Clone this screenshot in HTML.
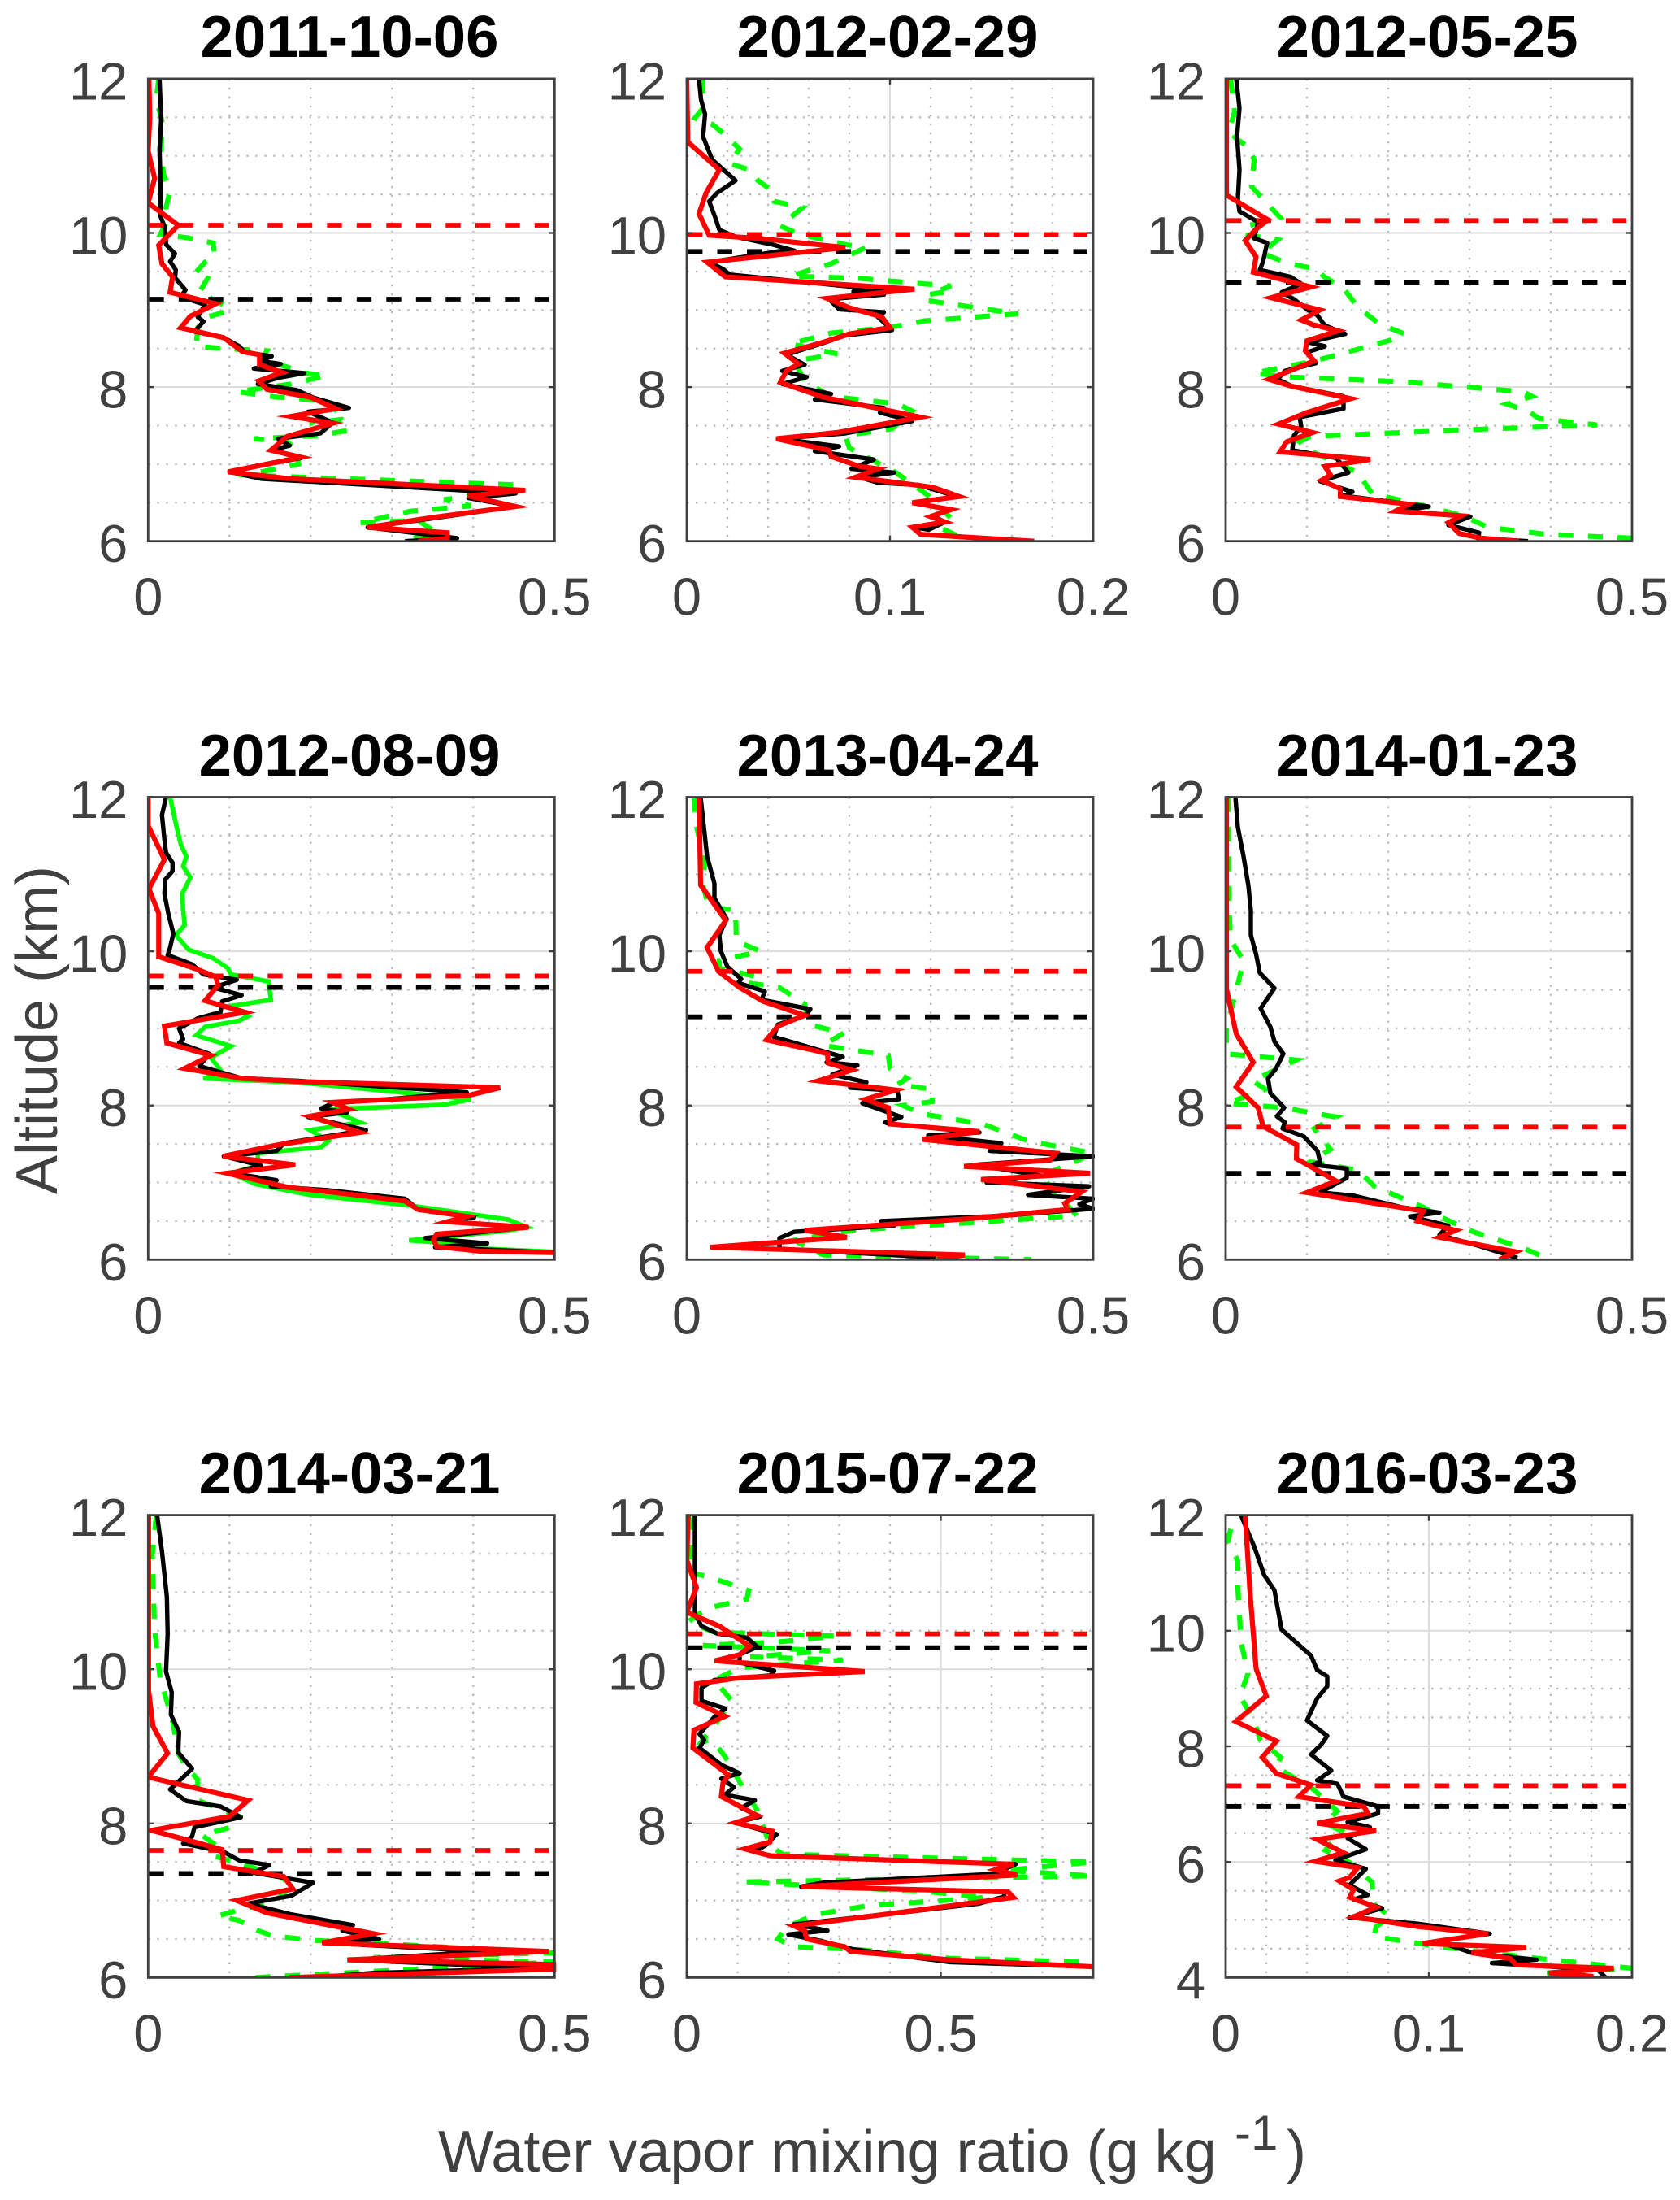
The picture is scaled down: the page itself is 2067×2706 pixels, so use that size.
<!DOCTYPE html>
<html lang="en">
<head>
<meta charset="utf-8">
<title>Water vapor mixing ratio profiles</title>
<style>
html,body{margin:0;padding:0;background:#fff;}
svg{display:block;font-family:"Liberation Sans",Arial,sans-serif;}
.ptitle{font-size:72.5px;font-weight:bold;fill:#000;text-anchor:middle;}
.axl{font-size:72px;fill:#404040;}
.tick{font-size:65px;fill:#404040;}
</style>
</head>
<body>
<svg id="figure" xmlns="http://www.w3.org/2000/svg" width="2067" height="2706" viewBox="0 0 2067 2706">
<rect x="0" y="0" width="2067" height="2706" fill="#fff"/>
<g id="panel-1"><text class="ptitle" x="430" y="70">2011-10-06</text></g>
<g id="panel-2"><text class="ptitle" x="1092" y="70">2012-02-29</text></g>
<g id="panel-3"><text class="ptitle" x="1756" y="70">2012-05-25</text></g>
<g id="panel-4"><text class="ptitle" x="430" y="954">2012-08-09</text></g>
<g id="panel-5"><text class="ptitle" x="1092" y="954">2013-04-24</text></g>
<g id="panel-6"><text class="ptitle" x="1756" y="954">2014-01-23</text></g>
<g id="panel-7"><text class="ptitle" x="430" y="1837">2014-03-21</text></g>
<g id="panel-8"><text class="ptitle" x="1092" y="1837">2015-07-22</text></g>
<g id="panel-9"><text class="ptitle" x="1756" y="1837">2016-03-23</text></g>
<text class="axl" text-anchor="middle" transform="translate(70,1267) rotate(-90)">Altitude (km)</text>
<text class="axl" x="539" y="2671">Water vapor mixing ratio (g kg</text>
<text x="1519" y="2644" font-size="60" fill="#404040">-1</text>
<text class="axl" x="1583" y="2671">)</text>
</svg>
<script>
// Panel 1: 2011-10-06
const p1RedVal=[.001,.002,0,.008,0,.037,.013,.017,.03,.027,.083,.052,.04,.093,.116,.137,.137,.165,.136,.146,.199,.231,.176,.227,.171,.151,.188,.098,.176,.464,.393,.452,.351,.27,.368,.368,.332];
const p1RedAlt=[12,11.49,11.06,10.71,10.39,10.1,9.84,9.6,9.43,9.23,9.08,8.92,8.77,8.64,8.46,8.42,8.29,8.19,8.08,7.97,7.87,7.72,7.62,7.53,7.36,7.18,7.09,6.9,6.81,6.66,6.59,6.45,6.31,6.18,6.11,6.04,6];
const p1BlackVal=[.014,.016,.014,.015,.015,.021,.022,.033,.027,.034,.033,.046,.04,.07,.061,.068,.057,.093,.112,.119,.152,.137,.163,.13,.192,.16,.135,.183,.204,.247,.197,.227,.212,.16,.174,.151,.188,.148,.1,.139,.452,.394,.452,.332,.27,.38,.316];
const p1BlackAlt=[12,11.46,11.09,10.71,10.22,10.06,9.85,9.73,9.63,9.52,9.42,9.26,9.17,9.07,8.91,8.85,8.72,8.64,8.53,8.45,8.4,8.34,8.3,8.24,8.18,8.12,8.04,7.96,7.86,7.73,7.68,7.54,7.4,7.33,7.24,7.18,7.08,7,6.9,6.81,6.62,6.56,6.45,6.27,6.18,6.04,6];
const p1GreenVal=[.013,.01,.017,.016,.019,.027,.022,.022,.015,.047,.08,.082,.07,.057,.073,.063,.092,.1,.073,.061,.059,.093,.146,.139,.162,.194,.22,.176,.109,.158,.208,.233,.199,.238,.247,.208,.13,.171,.183,.185,.139,.112,.456,.392,.364,.397,.323,.261,.332,.355,.312];
const p1GreenAlt=[12,11.73,11.46,11.03,10.76,10.55,10.33,10.12,9.98,9.94,9.87,9.69,9.62,9.47,9.41,9.23,9.07,8.99,8.91,8.77,8.53,8.5,8.47,8.34,8.29,8.18,8.15,8.04,7.94,7.87,7.83,7.72,7.53,7.58,7.44,7.37,7.33,7.29,7.18,7,6.9,6.86,6.73,6.58,6.54,6.46,6.39,6.24,6.27,6.11,6];
// Panel 2: 2012-02-29
const p2RedVal=[0,.0005,.016,.0095,.006,.011,.035,.078,.01,.019,.112,.069,.08,.096,.1,.08,.067,.048,.055,.049,.046,.067,.115,.074,.044,.07,.071,.085,.094,.083,.121,.134,.111,.13,.12,.127,.111,.115,.171];
const p2RedAlt=[12,11.18,10.82,10.52,10.25,9.97,9.93,9.81,9.62,9.43,9.27,9.15,9.03,8.91,8.77,8.69,8.58,8.44,8.3,8.21,8.06,7.87,7.61,7.41,7.33,7.18,7.1,6.97,6.94,6.83,6.7,6.58,6.5,6.41,6.32,6.25,6.18,6.09,6];
const p2BlackVal=[.006,.007,.009,.008,.0125,.018,.024,.015,.011,.014,.016,.024,.042,.053,.045,.011,.018,.021,.097,.082,.097,.07,.075,.097,.094,.101,.078,.067,.049,.058,.047,.059,.047,.071,.063,.097,.095,.111,.078,.045,.075,.063,.092,.081,.102,.085,.094,.114,.133,.112,.13,.121,.127,.119,.112,.115,.167];
const p2BlackAlt=[12,11.73,11.54,11.25,10.95,10.82,10.68,10.52,10.41,10.2,10.04,9.95,9.85,9.77,9.76,9.62,9.53,9.46,9.26,9.24,9.2,9.14,9.01,8.97,8.91,8.74,8.67,8.57,8.42,8.29,8.21,8.13,8.04,7.91,7.84,7.73,7.67,7.56,7.4,7.33,7.23,7.17,7.06,6.94,6.89,6.83,6.76,6.73,6.58,6.5,6.41,6.33,6.25,6.15,6.18,6.09,6];
const p2GreenVal=[.008,.008,.004,.0125,.019,.026,.021,.031,.035,.042,.043,.057,.046,.056,.078,.088,.071,.051,.085,.13,.119,.126,.119,.163,.117,.099,.071,.051,.074,.056,.054,.058,.071,.104,.111,.101,.078,.08,.103,.119,.13,.126,.139];
const p2GreenAlt=[12,11.62,11.49,11.41,11.27,11.09,10.9,10.82,10.68,10.55,10.41,10.33,10.09,9.98,9.85,9.81,9.6,9.44,9.41,9.31,9.2,9.23,9.12,8.95,8.86,8.77,8.7,8.56,8.43,8.35,8.29,8.07,7.88,7.78,7.69,7.46,7.37,7.21,6.89,6.59,6.3,6.16,6];
// Panel 3: 2012-05-25
const p3RedVal=[.001,.001,.052,.0375,.024,.0375,.034,.105,.056,.116,.093,.107,.138,.1,.098,.109,.053,.082,.154,.1,.065,.107,.075,.067,.178,.122,.129,.118,.141,.141,.225,.209,.29,.274,.2875,.314,.361];
const p3RedAlt=[12,10.49,10.17,10.05,9.9,9.69,9.49,9.3,9.16,9,8.87,8.81,8.73,8.6,8.47,8.34,8.1,8.01,7.85,7.67,7.52,7.41,7.29,7.16,7.06,6.97,6.86,6.79,6.68,6.58,6.48,6.39,6.33,6.24,6.1,6.04,6];
const p3BlackVal=[.013,.017,.014,.017,.015,.017,.04,.035,.051,.046,.042,.08,.093,.069,.084,.1,.113,.122,.147,.102,.122,.1,.111,.073,.064,.082,.145,.145,.091,.093,.084,.082,.136,.151,.116,.156,.145,.25,.212,.301,.274,.312,.31,.372];
const p3BlackAlt=[12,11.62,11.25,10.82,10.44,10.28,10.14,9.93,9.87,9.63,9.52,9.43,9.34,9.23,9.14,9.01,8.93,8.8,8.69,8.58,8.53,8.45,8.31,8.21,8.1,8.01,7.88,7.72,7.61,7.49,7.37,7.18,7.08,6.89,6.78,6.64,6.59,6.45,6.39,6.32,6.21,6.11,6.04,6];
const p3GreenVal=[.006,.011,.004,.013,.029,.035,.032,.067,.026,.022,.064,.044,.078,.113,.12,.145,.1625,.189,.22,.203,.149,.109,.035,.082,.216,.366,.377,.346,.372,.386,.457,.305,.104,.091,.107,.1625,.18,.247,.292,.323,.395,.5];
const p3GreenAlt=[12,11.57,11.33,11.22,11.11,10.95,10.6,10.2,10.09,9.98,9.91,9.74,9.6,9.53,9.44,9.28,9.04,8.82,8.69,8.61,8.45,8.34,8.18,8.13,8.07,7.94,7.88,7.78,7.69,7.59,7.51,7.45,7.36,7.29,7.16,6.89,6.62,6.45,6.33,6.18,6.09,6.04];
// Panel 4: 2012-08-09
const p4RedVal=[0,0,.02,.001,.013,.013,.057,.083,.086,.07,.119,.02,.023,.077,.045,.116,.185,.433,.394,.227,.247,.199,.261,.16,.092,.181,.097,.171,.254,.316,.332,.392,.368,.468,.355,.351,.355,.408,.5];
const p4RedAlt=[12,11.63,11.19,10.81,10.49,9.93,9.78,9.67,9.56,9.36,9.21,9.03,8.81,8.65,8.48,8.35,8.31,8.23,8.13,8.04,7.95,7.86,7.65,7.49,7.34,7.23,7.12,6.94,6.84,6.76,6.65,6.56,6.49,6.42,6.33,6.26,6.17,6.11,6.09];
const p4BlackVal=[.022,.017,.02,.022,.03,.03,.021,.02,.025,.031,.027,.024,.054,.068,.109,.08,.115,.091,.089,.061,.038,.043,.038,.075,.063,.089,.116,.185,.392,.295,.227,.213,.245,.197,.268,.167,.158,.093,.139,.102,.158,.151,.222,.316,.332,.401,.369,.466,.341,.417,.353,.5];
const p4BlackAlt=[12,11.77,11.45,11.28,11.15,11.04,10.93,10.75,10.48,10.23,10.05,9.95,9.83,9.7,9.63,9.53,9.43,9.35,9.21,9.13,9,8.86,8.81,8.67,8.51,8.43,8.35,8.32,8.17,8.08,8.03,7.96,7.91,7.85,7.68,7.51,7.41,7.34,7.22,7.12,7.03,6.95,6.9,6.79,6.65,6.55,6.49,6.42,6.28,6.21,6.16,6.09];
const p4GreenVal=[.027,.034,.04,.047,.043,.052,.042,.043,.045,.034,.05,.08,.098,.102,.148,.151,.102,.123,.112,.07,.059,.102,.077,.091,.068,.185,.397,.364,.222,.261,.199,.222,.213,.135,.135,.102,.132,.199,.316,.443,.466,.438,.321,.415,.355,.5];
const p4GreenAlt=[12,11.66,11.39,11.23,11.1,10.96,10.75,10.53,10.34,10.21,10.02,9.91,9.78,9.7,9.61,9.37,9.29,9.16,9.1,9.02,8.91,8.77,8.62,8.43,8.35,8.3,8.08,8.01,7.95,7.78,7.68,7.54,7.46,7.38,7.22,7.12,6.98,6.84,6.71,6.52,6.42,6.37,6.25,6.18,6.17,6.1];
// Panel 5: 2013-04-24
const p5RedVal=[.015,.017,.048,.025,.039,.065,.094,.145,.112,.098,.159,.173,.174,.203,.162,.257,.22,.248,.25,.36,.29,.454,.447,.341,.496,.362,.486,.465,.469,.346,.145,.197,.029,.342,.308];
const p5RedAlt=[12,10.86,10.4,10.05,9.74,9.53,9.35,9.17,9.03,8.85,8.71,8.67,8.55,8.46,8.32,8.2,8.08,7.97,7.76,7.66,7.56,7.38,7.29,7.21,7.12,7.04,6.88,6.73,6.65,6.53,6.38,6.29,6.16,6.06,6];
const p5BlackVal=[.017,.025,.034,.034,.049,.04,.042,.05,.067,.063,.096,.092,.152,.147,.112,.107,.159,.192,.172,.21,.179,.221,.201,.259,.261,.216,.264,.244,.25,.36,.297,.387,.373,.5,.355,.436,.369,.495,.42,.5,.483,.5,.391,.239,.255,.132,.114,.114,.306];
const p5BlackAlt=[12,11.23,10.88,10.69,10.42,10.21,10,9.8,9.64,9.59,9.48,9.37,9.25,9.17,9.05,8.89,8.73,8.63,8.56,8.52,8.4,8.3,8.23,8.19,8.08,8.03,7.85,7.78,7.76,7.65,7.61,7.51,7.41,7.34,7.23,7.09,7,6.95,6.84,6.79,6.72,6.66,6.57,6.5,6.44,6.36,6.28,6.14,6.03];
const p5GreenVal=[.009,.011,.022,.02,.027,.06,.061,.091,.04,.04,.087,.076,.114,.145,.15,.193,.168,.248,.25,.271,.259,.302,.302,.266,.29,.364,.42,.5,.436,.48,.203,.132,.168,.424];
const p5GreenAlt=[12,11.66,11.18,10.85,10.58,10.53,10.13,10,9.88,9.78,9.67,9.59,9.53,9.32,9.05,8.94,8.78,8.65,8.48,8.35,8.27,8.21,8.05,8,7.89,7.76,7.54,7.38,7.08,6.57,6.38,6.25,6.06,6];
// Panel 6: 2014-01-23
const p6RedVal=[.001,.001,.013,.034,.013,.04,.046,.0875,.087,.136,.1,.243,.236,.283,.263,.357,.337];
const p6RedAlt=[12,9.51,8.93,8.56,8.24,7.97,7.73,7.49,7.31,7.02,6.87,6.63,6.5,6.38,6.29,6.1,6];
const p6BlackVal=[.012,.015,.022,.028,.031,.031,.0375,.042,.06,.043,.055,.06,.071,.062,.052,.055,.072,.063,.073,.07,.096,.113,.116,.107,.149,.149,.116,.157,.216,.263,.227,.274,.263,.314,.359];
const p6BlackAlt=[12,11.61,11.23,10.85,10.53,10.21,9.96,9.72,9.52,9.26,9.02,8.83,8.67,8.48,8.35,8.16,7.97,7.86,7.78,7.7,7.6,7.41,7.27,7.23,7.18,7.06,6.87,6.83,6.68,6.61,6.56,6.44,6.32,6.17,6.02];
const p6GreenVal=[.003,.004,.006,.022,.011,.001,.001,.087,.033,.049,.002,.071,.136,.109,.129,.104,.1625,.183,.243,.267,.305,.368,.399];
const p6GreenAlt=[12,10.64,10.15,9.88,9.4,9.02,8.67,8.59,8.32,8.21,8.03,7.97,7.85,7.7,7.43,7.27,7.16,6.95,6.68,6.54,6.36,6.14,6];
// Panel 7: 2014-03-21
const p7RedVal=[.0005,.0005,.006,.024,0,.123,.1,.004,.091,.093,.167,.178,.109,.146,.277,.214,.493,.245,.5,.5,.174];
const p7RedAlt=[12,9.73,9.26,8.91,8.6,8.3,8.09,7.91,7.66,7.44,7.31,7.15,7,6.84,6.57,6.45,6.34,6.23,6.17,6.11,6];
const p7BlackVal=[.011,.017,.023,.024,.022,.029,.028,.038,.037,.054,.04,.027,.047,.089,.114,.057,.054,.043,.093,.112,.149,.13,.203,.176,.123,.176,.252,.239,.284,.217,.415,.25,.484,.277,.206];
const p7BlackAlt=[12,11.53,10.94,10.46,9.97,9.7,9.41,9.19,8.92,8.71,8.57,8.44,8.29,8.22,8.08,7.95,7.83,7.74,7.63,7.52,7.46,7.36,7.23,7.06,6.96,6.82,6.68,6.61,6.5,6.45,6.34,6.23,6.12,6.06,6];
const p7GreenVal=[.01,.005,.008,.015,.029,.038,.047,.061,.061,.112,.102,.066,.084,.08,.116,.162,.178,.155,.112,.086,.112,.135,.153,.208,.323,.5,.277,.5,.13];
const p7GreenAlt=[12,11.48,10.51,9.86,9.38,8.89,8.73,8.57,8.3,8.09,7.95,7.85,7.71,7.58,7.47,7.31,7.2,6.98,6.88,6.8,6.74,6.61,6.54,6.48,6.42,6.32,6.26,6.2,6];
// Panel 8: 2015-07-22
const p8RedVal=[.003,0,.019,0,.064,.124,.104,.055,.35,.104,.019,.018,.075,.014,.012,.082,.071,.068,.139,.096,.168,.164,.114,.164,.643,.608,.65,.225,.633,.643,.461,.211,.232,.236,.311,.322,.518,.8];
const p8RedAlt=[12,11.42,11.06,10.74,10.56,10.3,10.19,10.11,9.97,9.89,9.81,9.57,9.39,9.21,8.98,8.63,8.52,8.35,8.1,8.01,7.9,7.76,7.67,7.58,7.47,7.4,7.33,7.18,7.11,7.04,6.88,6.67,6.61,6.5,6.4,6.34,6.23,6.14];
const p8BlackVal=[.016,.016,.029,.061,.118,.139,.104,.104,.172,.164,.054,.029,.029,.076,.054,.025,.034,.025,.068,.104,.068,.093,.075,.134,.107,.145,.096,.177,.154,.132,.168,.647,.604,.268,.225,.625,.625,.575,.432,.211,.277,.2,.261,.325,.518,.8];
const p8BlackAlt=[12,10.72,10.56,10.46,10.41,10.29,10.19,10.09,9.98,9.92,9.86,9.76,9.59,9.49,9.38,9.16,9.08,8.98,8.76,8.65,8.58,8.47,8.37,8.3,8.2,8.09,8.01,7.86,7.71,7.63,7.58,7.47,7.345,7.23,7.18,7.11,7.05,6.96,6.85,6.69,6.61,6.56,6.48,6.37,6.2,6.14];
const p8GreenVal=[.014,.007,.002,.043,.122,.118,.039,.004,.054,.293,.175,.032,.282,.125,.307,.104,.054,.089,.061,.029,.05,.075,.111,.139,.164,.189,.8,.625,.8,.111,.482,.59,.354,.254,.197,.179,.211,.325,.518,.8];
const p8GreenAlt=[12,11.48,11.26,11.2,11.02,10.91,10.79,10.62,10.48,10.43,10.35,10.31,10.24,10.16,10.12,10.02,9.86,9.59,9.33,9.06,9.08,8.87,8.46,8.17,7.71,7.6,7.5,7.39,7.32,7.24,7.11,7.04,6.93,6.82,6.66,6.5,6.4,6.37,6.25,6.2];
// Panel 9: 2016-03-23
const p9RedVal=[.0096,.012,.015,.02,.005,.025,.018,.025,.042,.036,.068,.07,.045,.074,.045,.058,.044,.065,.061,.056,.063,.061,.074,.063,.095,.129,.097,.148,.121,.14,.143,.191,.159,.181];
const p9RedAlt=[12,10.66,9.34,8.87,8.43,8.09,7.81,7.53,7.33,7.13,6.96,6.84,6.67,6.54,6.39,6.16,6.01,5.9,5.73,5.67,5.52,5.39,5.22,5.05,4.88,4.76,4.59,4.52,4.43,4.33,4.22,4.16,4.08,4.02];
const p9BlackVal=[.0075,.014,.019,.024,.0275,.042,.045,.05,.05,.045,.04,.05,.047,.042,.052,.045,.055,.058,.075,.075,.06,.071,.06,.069,.054,.069,.061,.07,.063,.077,.061,.095,.13,.104,.122,.153,.131,.183,.187];
const p9BlackAlt=[12,11.46,10.96,10.7,10.02,9.57,9.32,9.21,9.04,8.83,8.45,8.18,8.03,7.86,7.58,7.41,7.35,7.13,6.96,6.84,6.69,6.6,6.41,6.22,6.03,5.88,5.6,5.43,5.35,5.2,5.04,4.93,4.76,4.63,4.42,4.31,4.25,4.14,4];
const p9GreenVal=[.0025,.001,.006,.006,.007,.0075,.011,.007,.014,.017,.027,.025,.043,.055,.049,.057,.049,.061,.072,.073,.081,.074,.073,.104,.154,.2,.158];
const p9GreenAlt=[11.76,11.55,11.21,10.74,10.15,9.81,9.26,8.87,8.45,8.11,7.81,7.64,7.26,6.88,6.67,6.54,6.2,5.99,5.65,5.27,5.05,4.88,4.71,4.54,4.33,4.16,4.08];

// Tropopause heights (km), one per panel
const blackLevels=[9.14,9.76,9.36,9.53,9.15,7.12,7.35,10.28,6.96];
const redLevels=[10.1,9.98,10.16,9.68,9.74,7.72,7.65,10.46,7.32];

// Axis ticks
const xTicks05=[0,0.5];
const xMinor05=[0.1,0.2,0.3,0.4];
const xLabels05=["0","0.5"];
const xTicks02=[0,0.1,0.2];
const xMinor02=[0.02,0.04,0.06,0.08,0.12,0.14,0.16,0.18];
const xLabels02=["0","0.1","0.2"];
const xTicks08=[0,0.5];
const xMinor08=[0.1,0.2,0.3,0.4,0.6,0.7];
const xLabels08=["0","0.5"];
const yTicks6=[6,8,10,12];
const yMinor6=[6.5,7,7.5,8.5,9,9.5,10.5,11,11.5];
const yTicks4=[4,6,8,10,12];
const yMinor4=[4.5,5,5.5,6.5,7,7.5,8.5,9,9.5,10.5,11,11.5];

const panelValues=[
 {xMax:.5,xT:xTicks05,xM:xMinor05,xL:xLabels05,yT:yTicks6,yM:yMinor6,r:[p1RedVal,p1RedAlt],k:[p1BlackVal,p1BlackAlt],g:[p1GreenVal,p1GreenAlt]},
 {xMax:.2,xT:xTicks02,xM:xMinor02,xL:xLabels02,yT:yTicks6,yM:yMinor6,r:[p2RedVal,p2RedAlt],k:[p2BlackVal,p2BlackAlt],g:[p2GreenVal,p2GreenAlt]},
 {xMax:.5,xT:xTicks05,xM:xMinor05,xL:xLabels05,yT:yTicks6,yM:yMinor6,r:[p3RedVal,p3RedAlt],k:[p3BlackVal,p3BlackAlt],g:[p3GreenVal,p3GreenAlt]},
 {xMax:.5,xT:xTicks05,xM:xMinor05,xL:xLabels05,yT:yTicks6,yM:yMinor6,r:[p4RedVal,p4RedAlt],k:[p4BlackVal,p4BlackAlt],g:[p4GreenVal,p4GreenAlt],solidGreen:true},
 {xMax:.5,xT:xTicks05,xM:xMinor05,xL:xLabels05,yT:yTicks6,yM:yMinor6,r:[p5RedVal,p5RedAlt],k:[p5BlackVal,p5BlackAlt],g:[p5GreenVal,p5GreenAlt]},
 {xMax:.5,xT:xTicks05,xM:xMinor05,xL:xLabels05,yT:yTicks6,yM:yMinor6,r:[p6RedVal,p6RedAlt],k:[p6BlackVal,p6BlackAlt],g:[p6GreenVal,p6GreenAlt]},
 {xMax:.5,xT:xTicks05,xM:xMinor05,xL:xLabels05,yT:yTicks6,yM:yMinor6,r:[p7RedVal,p7RedAlt],k:[p7BlackVal,p7BlackAlt],g:[p7GreenVal,p7GreenAlt]},
 {xMax:.8,xT:xTicks08,xM:xMinor08,xL:xLabels08,yT:yTicks6,yM:yMinor6,r:[p8RedVal,p8RedAlt],k:[p8BlackVal,p8BlackAlt],g:[p8GreenVal,p8GreenAlt]},
 {xMax:.2,xT:xTicks02,xM:xMinor02,xL:xLabels02,yT:yTicks4,yM:yMinor4,yMin:4,r:[p9RedVal,p9RedAlt],k:[p9BlackVal,p9BlackAlt],g:[p9GreenVal,p9GreenAlt]}
];

const SVGNS="http://www.w3.org/2000/svg";
const colLeft=[182.3,845,1508];
const rowTop=[96.9,980.5,1863.6];
const PW=500, PH=568.8;

function make(tag,parent,attrs,text){
  const el=document.createElementNS(SVGNS,tag);
  for(const k in attrs){el.setAttribute(k,attrs[k]);}
  if(text!==undefined){el.textContent=text;}
  parent.appendChild(el);
  return el;
}
function pathFrom(vals,alts,sx,sy){
  const n=Math.min(vals.length,alts.length);
  const pts=[];
  for(let i=0;i<n;i++){pts.push(sx(vals[i]).toFixed(1)+","+sy(alts[i]).toFixed(1));}
  return pts.join(" ");
}

panelValues.forEach(function(p,idx){
  const g=document.getElementById("panel-"+(idx+1));
  const left=colLeft[idx%3], top=rowTop[Math.floor(idx/3)];
  const right=left+PW, bottom=top+PH;
  const yMin=p.yMin||6;
  const sx=function(v){return left+v/p.xMax*PW;};
  const sy=function(a){return bottom-(a-yMin)/(12-yMin)*PH;};

  const defs=make("defs",g,{});
  const clip=make("clipPath",defs,{id:"clip-"+idx});
  make("rect",clip,{x:left-1,y:top-1,width:PW+3,height:PH+2});

  p.xM.forEach(function(v){
    const el=make("line",g,{x1:sx(v),x2:sx(v),y1:top,y2:bottom,stroke:"#bdbdbd","stroke-width":2.4,"stroke-dasharray":"2.4 8.6"});
    
    
  });
  p.yM.forEach(function(a){
    const el=make("line",g,{x1:left,x2:right,y1:sy(a),y2:sy(a),stroke:"#bdbdbd","stroke-width":2.4,"stroke-dasharray":"2.4 8.6"});
    
    
  });
  p.xT.forEach(function(v){
    if(v===0||v===p.xMax){return;}
    const el=make("line",g,{x1:sx(v),x2:sx(v),y1:top,y2:bottom,stroke:"#dcdcdc","stroke-width":2});
    
    
  });
  p.yT.forEach(function(a){
    if(a===yMin||a===12){return;}
    const el=make("line",g,{x1:left,x2:right,y1:sy(a),y2:sy(a),stroke:"#dcdcdc","stroke-width":2});
    
    
  });

  const plot=make("g",g,{"clip-path":"url(#clip-"+idx+")"});
  
  

  const green=make("polyline",plot,{points:pathFrom(p.g[0],p.g[1],sx,sy),fill:"none",stroke:"#00ff00","stroke-width":p.solidGreen?5.6:6.2,"stroke-dasharray":p.solidGreen?"none":"18.4 18"});
  
  

  const black=make("polyline",plot,{points:pathFrom(p.k[0],p.k[1],sx,sy),fill:"none",stroke:"#000","stroke-width":5.4,"stroke-linejoin":"round"});
  
  

  const blackDash=make("line",plot,{x1:left+1,x2:right-7,y1:sy(blackLevels[idx]),y2:sy(blackLevels[idx]),stroke:"#000","stroke-width":5.8,"stroke-dasharray":"18.4 18.1"});
  
  

  const redDash=make("line",plot,{x1:left+1,x2:right-7,y1:sy(redLevels[idx]),y2:sy(redLevels[idx]),stroke:"#ff0000","stroke-width":5.8,"stroke-dasharray":"18.4 18.1"});
  
  

  const red=make("polyline",plot,{points:pathFrom(p.r[0],p.r[1],sx,sy),fill:"none",stroke:"#ff0000","stroke-width":6.2,"stroke-linejoin":"miter","stroke-miterlimit":6});
  
  

  const box=make("rect",g,{x:left,y:top,width:PW,height:PH,fill:"none",stroke:"#404040","stroke-width":2.8});
  
  

  p.yT.forEach(function(a){
    const t1=make("line",g,{x1:left,x2:left+7,y1:sy(a),y2:sy(a),stroke:"#404040","stroke-width":2.4});
    
    
    const t2=make("line",g,{x1:right-7,x2:right,y1:sy(a),y2:sy(a),stroke:"#404040","stroke-width":2.4});
    
    
    const lab=make("text",g,{class:"tick",x:left-25,y:sy(a)+25.5,"text-anchor":"end"},String(a));
    
    
  });
  p.xT.forEach(function(v,i){
    const t1=make("line",g,{x1:sx(v),x2:sx(v),y1:bottom-7,y2:bottom,stroke:"#404040","stroke-width":2.4});
    
    
    const t2=make("line",g,{x1:sx(v),x2:sx(v),y1:top,y2:top+7,stroke:"#404040","stroke-width":2.4});
    
    
    const lab=make("text",g,{class:"tick",x:sx(v),y:bottom+91,"text-anchor":"middle"},p.xL[i]);
    
    
  });
});
</script>
</body>
</html>
